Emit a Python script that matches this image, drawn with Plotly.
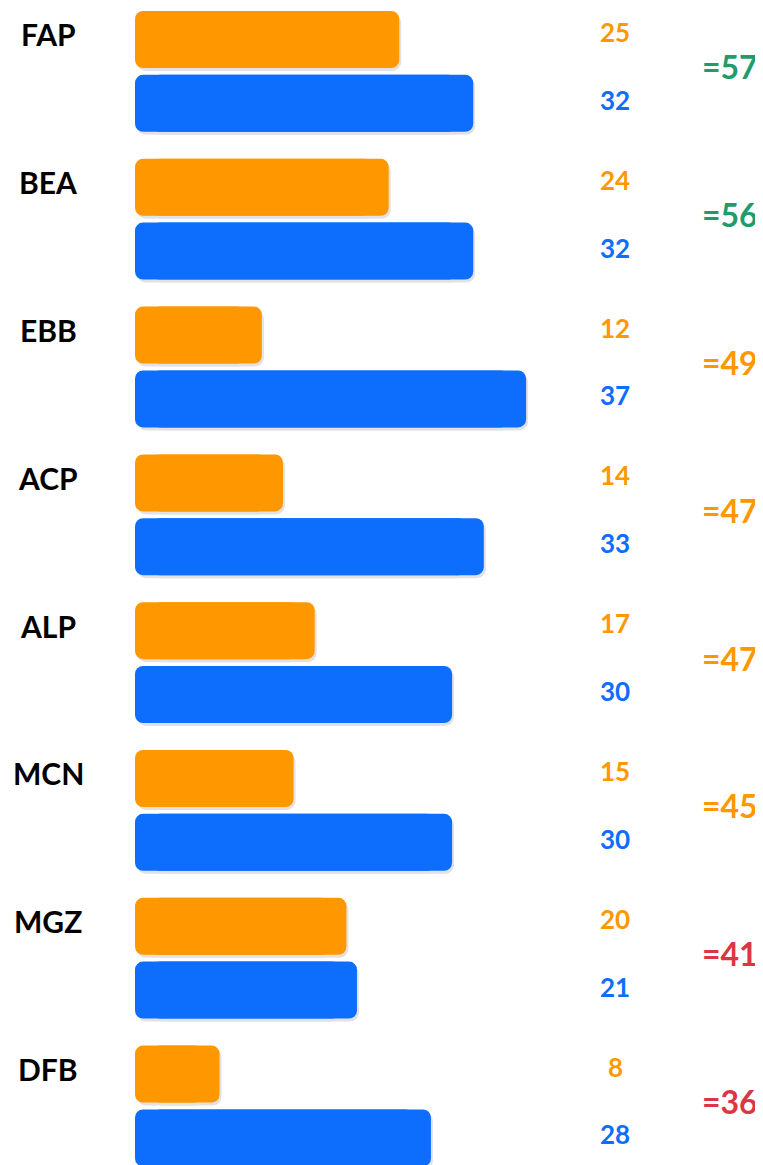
import plotly.graph_objects as go

categories = ["FAP", "BEA", "EBB", "ACP", "ALP", "MCN", "MGZ", "DFB"]
orange_vals = [25, 24, 12, 14, 17, 15, 20, 8]
blue_vals = [32, 32, 37, 33, 30, 30, 21, 28]
totals = [57, 56, 49, 47, 47, 45, 41, 36]
total_colors = ["#1F9B6C", "#1F9B6C", "#FF9800", "#FF9800", "#FF9800", "#FF9800", "#DC3545", "#DC3545"]

ORANGE = "#FF9800"
BLUE = "#0D6EFD"
FONT = "Lato"

PAGE_OFF = 8  # browser body margin
W, H = 763 - PAGE_OFF, 1165 - PAGE_OFF
ML = 135 - PAGE_OFF
PX_PER_UNIT = 10.57
ROW = 147.8
ROW0 = 71.4 - PAGE_OFF

rows = list(range(len(categories)))
off = 31.9 / ROW
y_or = [r - off for r in rows]
y_bl = [r + off for r in rows]
bw = 57 / ROW

xmax = (W - ML) / PX_PER_UNIT
ytop = -ROW0 / ROW
ybot = (H - ROW0) / ROW

fig = go.Figure()
OV = 1.6  # overlap (data units) so both pieces' inner corners are hidden


def add_rounded(vals, ys, color, radius, dx=0.0, dy=0.0):
    yy = [y + dy for y in ys]
    # left piece: drawn from (v-OV) back toward 0 -> rounded end at 0
    fig.add_trace(go.Bar(x=[-(v - OV) for v in vals], base=[v - OV + dx for v in vals], y=yy,
                         orientation="h", width=bw,
                         marker=dict(color=color, cornerradius=radius, line_width=0),
                         hoverinfo="skip", showlegend=False))
    # right piece: drawn from OV to v -> rounded end at v
    fig.add_trace(go.Bar(x=[v - OV for v in vals], base=[OV + dx for _ in vals], y=yy,
                         orientation="h", width=bw,
                         marker=dict(color=color, cornerradius=radius, line_width=0),
                         hoverinfo="skip", showlegend=False))


sx = 2.0 / PX_PER_UNIT
sy = 3.0 / ROW
add_rounded(orange_vals, y_or, "#E2E2E2", 9, sx, sy)
add_rounded(blue_vals, y_bl, "#E2E2E2", 9, sx, sy)
add_rounded(orange_vals, y_or, ORANGE, 8)
add_rounded(blue_vals, y_bl, BLUE, 8)

ann = []
xv = (615 - PAGE_OFF - ML) / (W - ML)
xt = (730 - PAGE_OFF - ML) / (W - ML)
xc = (48 - PAGE_OFF - ML) / (W - ML)
for i, c in enumerate(categories):
    ann.append(dict(x=xc, xref="paper", y=i - 37 / ROW, yref="y", text=c, showarrow=False,
                    font=dict(family=FONT, size=30, color="#000000", weight=700), xanchor="center", yanchor="middle"))
    ann.append(dict(x=xv, xref="paper", y=i - 39.4 / ROW, yref="y", text=str(orange_vals[i]), showarrow=False,
                    font=dict(family=FONT, size=26, color=ORANGE, weight=700), xanchor="center", yanchor="middle"))
    ann.append(dict(x=xv, xref="paper", y=i + 28.3 / ROW, yref="y", text=str(blue_vals[i]), showarrow=False,
                    font=dict(family=FONT, size=26, color=BLUE, weight=700), xanchor="center", yanchor="middle"))
    ann.append(dict(x=xt, xref="paper", y=i - 4.5 / ROW, yref="y", text="=" + str(totals[i]), showarrow=False,
                    font=dict(family=FONT, size=32, color=total_colors[i], weight=700), xanchor="center", yanchor="middle"))

fig.update_layout(
    width=W, height=H,
    margin=dict(l=ML, r=0, t=0, b=0),
    paper_bgcolor="white", plot_bgcolor="white",
    barmode="overlay",
    xaxis=dict(range=[0, xmax], visible=False, fixedrange=True),
    yaxis=dict(range=[ybot, ytop], visible=False, fixedrange=True),
    annotations=ann,
    showlegend=False,
)
fig.write_html("out.html")
